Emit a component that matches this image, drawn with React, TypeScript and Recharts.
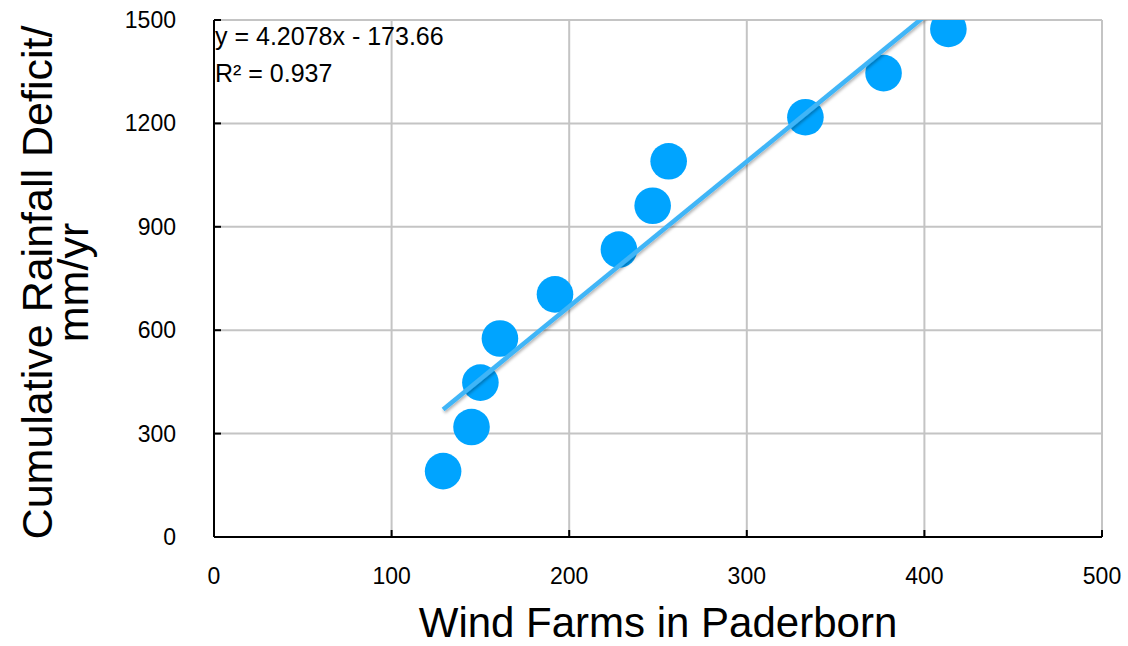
import { ScatterChart, Scatter, XAxis, YAxis, CartesianGrid, Customized } from 'recharts';

const windFarms = [129, 145, 150, 161, 192, 228, 247, 256, 333, 377, 413.5];
const rainfallDeficit = [191, 319, 448, 576, 704, 834, 961, 1090, 1218, 1346, 1474];
const trendX = [129, 400];
const trendY = [370, 1510];
const xTicks = [0, 100, 200, 300, 400, 500];
const yTicks = [0, 300, 600, 900, 1200, 1500];
const equationLines = ['y = 4.2078x - 173.66', 'R² = 0.937'];

const points = windFarms.map((x, i) => ({ x, y: rainfallDeficit[i] }));
const trend = trendX.map((x, i) => ({ x, y: trendY[i] }));

const FONT = '"Liberation Sans", Arial, Helvetica, sans-serif';

function XTick({ x, y, payload }: any) {
  return (
    <g>
      <line x1={x} y1={y} x2={x} y2={y - 7} stroke="#000" strokeWidth={2} />
      <text x={x} y={y + 39} textAnchor="middle" dominantBaseline="central" fontSize={23} fontFamily={FONT} fill="#000">
        {payload.value}
      </text>
    </g>
  );
}

function YTick({ x, y, payload }: any) {
  return (
    <g>
      <line x1={x} y1={y} x2={x + 7} y2={y} stroke="#000" strokeWidth={2} />
      <text x={x - 38} y={y} textAnchor="end" dominantBaseline="central" fontSize={23} fontFamily={FONT} fill="#000">
        {payload.value}
      </text>
    </g>
  );
}

function YTitle({ viewBox }: any) {
  const cy = viewBox.y + viewBox.height / 2 + 4;
  return (
    <g fontSize={43} fontFamily={FONT} fill="#000">
      <text transform={`translate(52, ${cy}) rotate(-90)`} textAnchor="middle">Cumulative Rainfall Deficit/</text>
      <text transform={`translate(88, ${cy}) rotate(-90)`} textAnchor="middle">mm/yr</text>
    </g>
  );
}

function XTitle({ viewBox }: any) {
  return (
    <text x={viewBox.x + viewBox.width / 2} y={637} textAnchor="middle" fontSize={42} fontFamily={FONT} fill="#000">
      Wind Farms in Paderborn
    </text>
  );
}

function Equation() {
  return (
    <g fontSize={25} fontFamily={FONT} fill="#000">
      {equationLines.map((t, i) => (
        <text key={t} x={215} y={45 + i * 37}>{t}</text>
      ))}
    </g>
  );
}

function Dot({ cx, cy }: any) {
  return <circle cx={cx} cy={cy} r={18.3} fill="#00a4ff" />;
}

export default function App() {
  return (
    <div style={{ position: 'absolute', left: 0, top: 0, width: 1128, height: 646, background: '#fff' }}>
      <ScatterChart width={1128} height={646} margin={{ top: 20, right: 26, bottom: 0, left: 0 }}>
        <defs>
          <filter id="lineShadow" x="-10%" y="-10%" width="120%" height="120%">
            <feDropShadow dx="1" dy="2" stdDeviation="1.5" floodColor="#000" floodOpacity="0.3" />
          </filter>
        </defs>
        <CartesianGrid stroke="#c4c4c4" strokeWidth={2} />
        <XAxis
          type="number"
          dataKey="x"
          domain={[0, 500]}
          ticks={xTicks}
          height={109}
          axisLine={{ stroke: '#000', strokeWidth: 2 }}
          tickLine={false}
          tickSize={0}
          tickMargin={0}
          tick={<XTick />}
          label={{ content: <XTitle /> }}
        />
        <YAxis
          type="number"
          dataKey="y"
          domain={[0, 1500]}
          allowDataOverflow
          ticks={yTicks}
          width={214}
          axisLine={{ stroke: '#000', strokeWidth: 2 }}
          tickLine={false}
          tickSize={0}
          tickMargin={0}
          tick={<YTick />}
          label={{ content: <YTitle /> }}
        />
        <Scatter data={points} shape={<Dot />} isAnimationActive={false} />
        <Scatter
          data={trend}
          line={{ stroke: '#3fb5f7', strokeWidth: 4.5, filter: 'url(#lineShadow)' }}
          shape={() => <g />}
          isAnimationActive={false}
        />
        <Customized component={<Equation />} />
      </ScatterChart>
    </div>
  );
}
